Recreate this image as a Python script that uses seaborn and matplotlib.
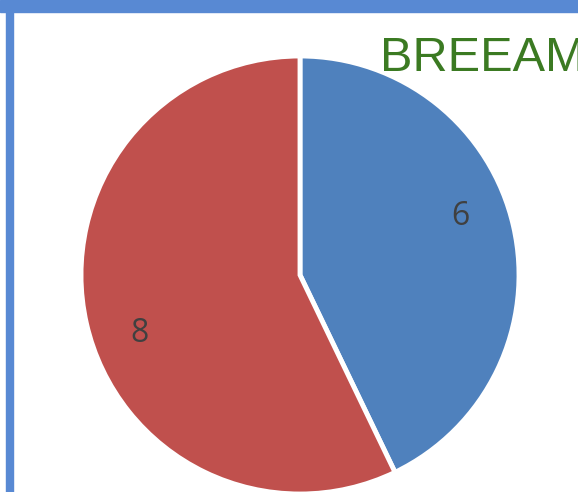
import numpy as np
import matplotlib
matplotlib.use("Agg")
import matplotlib.pyplot as plt
import seaborn as sns
from matplotlib.patches import Rectangle

# Datos
categorias = ["A", "B"]
valores = [6, 8]
colores = ["#4F81BD", "#C0504D"]
titulo = "BREEAM"

sns.set_theme(style="white")
plt.rcParams['font.family'] = ['Liberation Sans', 'DejaVu Sans']

W, H = 578, 492
fig = plt.figure(figsize=(W / 100, H / 100), dpi=100)
fig.patch.set_facecolor("white")
ax = fig.add_axes([0, 0, 1, 1])

wedges, _ = ax.pie(valores, colors=colores, startangle=90, counterclock=False,
                   center=(300, H - 275), radius=219,
                   wedgeprops=dict(edgecolor="white", linewidth=3.5))
ax.set_xlim(0, W)
ax.set_ylim(0, H)
ax.set_aspect("equal")
ax.axis("off")

# etiquetas de valor
for w, v in zip(wedges, valores):
    ang = np.deg2rad((w.theta1 + w.theta2) / 2 + 7)
    r = 0.78 * w.r
    ax.text(w.center[0] + r * np.cos(ang), w.center[1] + r * np.sin(ang), str(v),
            ha="center", va="center", fontsize=23, color="#404040",
            family=["Open Sans", "DejaVu Sans"])

fig.text(380 / W, 1 - 71 / H, titulo, ha="left", va="baseline",
         fontsize=35, color="#3B7A22")

# marco azul
borde = "#5889D3"
fig.patches.append(Rectangle((0, 1 - 12 / H), 1, 12 / H, transform=fig.transFigure,
                             color=borde, zorder=10))
fig.patches.append(Rectangle((6 / W, 0), 7 / W, 1, transform=fig.transFigure,
                             color=borde, zorder=10))

fig.savefig("out.png", dpi=100)
